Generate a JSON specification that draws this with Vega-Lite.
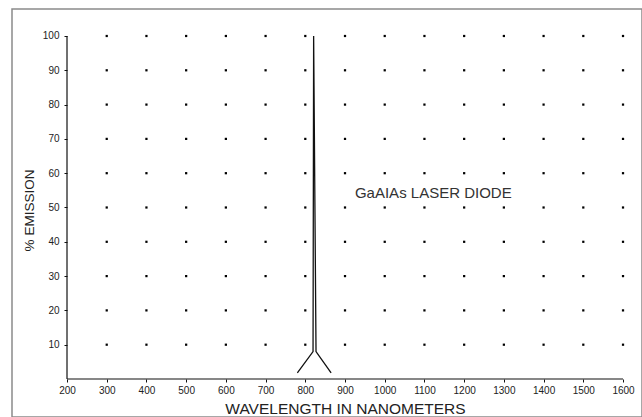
{
  "$schema": "https://vega.github.io/schema/vega-lite/v6.json",
  "autosize": "none",
  "width": 630,
  "height": 408,
  "padding": {"left": 12, "top": 9, "right": 0, "bottom": 0},
  "background": "white",
  "config": {
    "font": "Liberation Sans",
    "view": {"stroke": "#8a8a8a", "strokeWidth": 1.5},
    "axis": {"grid": false, "domain": false, "labelColor": "#222", "titleColor": "#222", "tickColor": "#111", "labelFont": "Liberation Sans", "titleFont": "Liberation Sans", "titleFontWeight": "normal"}
  },
  "datasets": {
    "dots": [
      {"wavelength":300,"emission":10},{"wavelength":300,"emission":20},{"wavelength":300,"emission":30},{"wavelength":300,"emission":40},{"wavelength":300,"emission":50},{"wavelength":300,"emission":60},{"wavelength":300,"emission":70},{"wavelength":300,"emission":80},{"wavelength":300,"emission":90},{"wavelength":300,"emission":100},
      {"wavelength":400,"emission":10},{"wavelength":400,"emission":20},{"wavelength":400,"emission":30},{"wavelength":400,"emission":40},{"wavelength":400,"emission":50},{"wavelength":400,"emission":60},{"wavelength":400,"emission":70},{"wavelength":400,"emission":80},{"wavelength":400,"emission":90},{"wavelength":400,"emission":100},
      {"wavelength":500,"emission":10},{"wavelength":500,"emission":20},{"wavelength":500,"emission":30},{"wavelength":500,"emission":40},{"wavelength":500,"emission":50},{"wavelength":500,"emission":60},{"wavelength":500,"emission":70},{"wavelength":500,"emission":80},{"wavelength":500,"emission":90},{"wavelength":500,"emission":100},
      {"wavelength":600,"emission":10},{"wavelength":600,"emission":20},{"wavelength":600,"emission":30},{"wavelength":600,"emission":40},{"wavelength":600,"emission":50},{"wavelength":600,"emission":60},{"wavelength":600,"emission":70},{"wavelength":600,"emission":80},{"wavelength":600,"emission":90},{"wavelength":600,"emission":100},
      {"wavelength":700,"emission":10},{"wavelength":700,"emission":20},{"wavelength":700,"emission":30},{"wavelength":700,"emission":40},{"wavelength":700,"emission":50},{"wavelength":700,"emission":60},{"wavelength":700,"emission":70},{"wavelength":700,"emission":80},{"wavelength":700,"emission":90},{"wavelength":700,"emission":100},
      {"wavelength":800,"emission":10},{"wavelength":800,"emission":20},{"wavelength":800,"emission":30},{"wavelength":800,"emission":40},{"wavelength":800,"emission":50},{"wavelength":800,"emission":60},{"wavelength":800,"emission":70},{"wavelength":800,"emission":80},{"wavelength":800,"emission":90},{"wavelength":800,"emission":100},
      {"wavelength":900,"emission":10},{"wavelength":900,"emission":20},{"wavelength":900,"emission":30},{"wavelength":900,"emission":40},{"wavelength":900,"emission":50},{"wavelength":900,"emission":60},{"wavelength":900,"emission":70},{"wavelength":900,"emission":80},{"wavelength":900,"emission":90},{"wavelength":900,"emission":100},
      {"wavelength":1000,"emission":10},{"wavelength":1000,"emission":20},{"wavelength":1000,"emission":30},{"wavelength":1000,"emission":40},{"wavelength":1000,"emission":50},{"wavelength":1000,"emission":60},{"wavelength":1000,"emission":70},{"wavelength":1000,"emission":80},{"wavelength":1000,"emission":90},{"wavelength":1000,"emission":100},
      {"wavelength":1100,"emission":10},{"wavelength":1100,"emission":20},{"wavelength":1100,"emission":30},{"wavelength":1100,"emission":40},{"wavelength":1100,"emission":50},{"wavelength":1100,"emission":60},{"wavelength":1100,"emission":70},{"wavelength":1100,"emission":80},{"wavelength":1100,"emission":90},{"wavelength":1100,"emission":100},
      {"wavelength":1200,"emission":10},{"wavelength":1200,"emission":20},{"wavelength":1200,"emission":30},{"wavelength":1200,"emission":40},{"wavelength":1200,"emission":50},{"wavelength":1200,"emission":60},{"wavelength":1200,"emission":70},{"wavelength":1200,"emission":80},{"wavelength":1200,"emission":90},{"wavelength":1200,"emission":100},
      {"wavelength":1300,"emission":10},{"wavelength":1300,"emission":20},{"wavelength":1300,"emission":30},{"wavelength":1300,"emission":40},{"wavelength":1300,"emission":50},{"wavelength":1300,"emission":60},{"wavelength":1300,"emission":70},{"wavelength":1300,"emission":80},{"wavelength":1300,"emission":90},{"wavelength":1300,"emission":100},
      {"wavelength":1400,"emission":10},{"wavelength":1400,"emission":20},{"wavelength":1400,"emission":30},{"wavelength":1400,"emission":40},{"wavelength":1400,"emission":50},{"wavelength":1400,"emission":60},{"wavelength":1400,"emission":70},{"wavelength":1400,"emission":80},{"wavelength":1400,"emission":90},{"wavelength":1400,"emission":100},
      {"wavelength":1500,"emission":10},{"wavelength":1500,"emission":20},{"wavelength":1500,"emission":30},{"wavelength":1500,"emission":40},{"wavelength":1500,"emission":50},{"wavelength":1500,"emission":60},{"wavelength":1500,"emission":70},{"wavelength":1500,"emission":80},{"wavelength":1500,"emission":90},{"wavelength":1500,"emission":100},
      {"wavelength":1600,"emission":10},{"wavelength":1600,"emission":20},{"wavelength":1600,"emission":30},{"wavelength":1600,"emission":40},{"wavelength":1600,"emission":50},{"wavelength":1600,"emission":60},{"wavelength":1600,"emission":70},{"wavelength":1600,"emission":80},{"wavelength":1600,"emission":90},{"wavelength":1600,"emission":100}
    ],
    "spike": [
      {"wavelength": 780, "emission": 1.8, "step": 1},
      {"wavelength": 819.5, "emission": 8, "step": 2},
      {"wavelength": 821, "emission": 100, "step": 3},
      {"wavelength": 827, "emission": 8, "step": 4},
      {"wavelength": 865, "emission": 1.8, "step": 5}
    ],
    "axes": [
      {"wavelength": 200, "wavelength2": 1600, "emission": 0, "emission2": 0},
      {"wavelength": 200, "wavelength2": 200, "emission": 0, "emission2": 100}
    ],
    "labels": [
      {"wavelength": 925, "emission": 54.2, "text": "GaAIAs LASER DIODE"}
    ]
  },
  "layer": [
    {
      "data": {"name": "dots"},
      "mark": {"type": "point", "shape": "square", "size": 5, "filled": true, "color": "#000", "opacity": 1},
      "encoding": {
        "x": {"field": "wavelength", "type": "quantitative",
          "scale": {"domain": [61.5, 1647.8], "nice": false, "zero": false},
          "axis": {"orient": "bottom", "offset": -38, "values": [200,300,400,500,600,700,800,900,1000,1100,1200,1300,1400,1500,1600], "format": "d",
            "tickSize": 3, "labelPadding": 3, "labelFontSize": 10, "labelFlush": false,
            "title": "WAVELENGTH IN NANOMETERS", "titleFontSize": 15.5, "titleX": 333, "titleY": 34, "titleBaseline": "alphabetic", "titleAnchor": null, "titleAlign": "center"}},
        "y": {"field": "emission", "type": "quantitative",
          "scale": {"domain": [-11.08, 107.87], "nice": false, "zero": false},
          "axis": {"orient": "left", "offset": -55, "values": [10,20,30,40,50,60,70,80,90,100],
            "tickSize": 3, "labelPadding": 5, "labelFontSize": 10, "labelFlush": false,
            "title": "% EMISSION", "titleFontSize": 13.5, "titleX": -38, "titleY": 201, "titleBaseline": "middle", "titleAlign": "center", "titleAngle": -90}}
      }
    },
    {
      "data": {"name": "axes"},
      "mark": {"type": "rule", "color": "#111", "strokeWidth": 1.2},
      "encoding": {
        "x": {"field": "wavelength", "type": "quantitative"},
        "x2": {"field": "wavelength2"},
        "y": {"field": "emission", "type": "quantitative"},
        "y2": {"field": "emission2"}
      }
    },
    {
      "data": {"name": "spike"},
      "mark": {"type": "line", "color": "#111", "strokeWidth": 1.3},
      "encoding": {
        "x": {"field": "wavelength", "type": "quantitative"},
        "y": {"field": "emission", "type": "quantitative"},
        "order": {"field": "step", "type": "quantitative"}
      }
    },
    {
      "data": {"name": "labels"},
      "mark": {"type": "text", "align": "left", "baseline": "middle", "fontSize": 15, "color": "#333", "font": "Liberation Sans"},
      "encoding": {
        "x": {"field": "wavelength", "type": "quantitative"},
        "y": {"field": "emission", "type": "quantitative"},
        "text": {"field": "text"}
      }
    }
  ]
}
